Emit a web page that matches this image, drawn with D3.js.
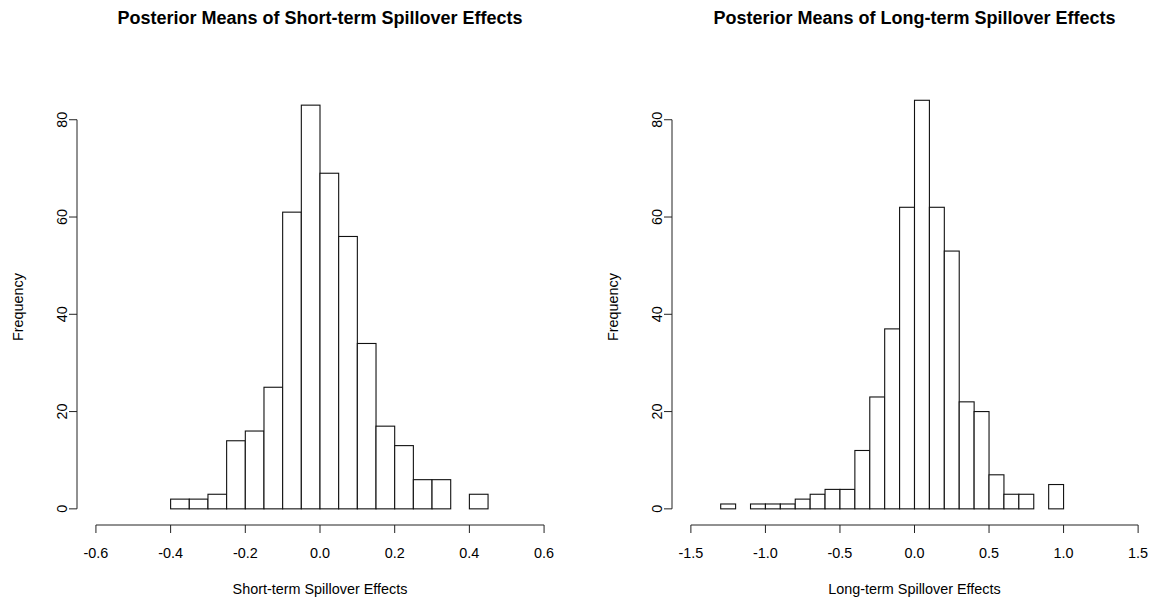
<!DOCTYPE html>
<html>
<head>
<meta charset="utf-8">
<script src="https://cdn.jsdelivr.net/npm/d3@7"></script>
<style>
  body { margin: 0; background: #fff; }
  text { font-family: "Liberation Sans", Arial, sans-serif; fill: #000; }
</style>
</head>
<body>
<svg id="chart" width="1155" height="599"></svg>
<script>
// histogram data
var shortBreaks = [-0.4, -0.35, -0.3, -0.25, -0.2, -0.15, -0.1, -0.05, 0, 0.05, 0.1, 0.15, 0.2, 0.25, 0.3, 0.35, 0.4, 0.45];
var shortCounts = [2, 2, 3, 14, 16, 25, 61, 83, 69, 56, 34, 17, 13, 6, 6, 0, 3];
var shortTicks = [-0.6, -0.4, -0.2, 0, 0.2, 0.4, 0.6];

var longBreaks = [-1.3, -1.2, -1.1, -1.0, -0.9, -0.8, -0.7, -0.6, -0.5, -0.4, -0.3, -0.2, -0.1, 0, 0.1, 0.2, 0.3, 0.4, 0.5, 0.6, 0.7, 0.8, 0.9, 1.0];
var longCounts = [1, 0, 1, 1, 1, 2, 3, 4, 4, 12, 23, 37, 62, 84, 62, 53, 22, 20, 7, 3, 3, 0, 5];
var longTicks = [-1.5, -1.0, -0.5, 0, 0.5, 1.0, 1.5];

var freqTicks = [0, 20, 40, 60, 80];
var yLim = [0, 83];

var svg = d3.select('#chart');

// R style labels use a plain hyphen for the minus sign
var fmt = function(d){ return d3.format('.1f')(d).replace('\u2212', '-'); };

var drawHist = function(opts){
  var ext = (opts.xlim[1] - opts.xlim[0]) * 0.04;
  var x = d3.scaleLinear()
    .domain([opts.xlim[0] - ext, opts.xlim[1] + ext])
    .range([opts.left, opts.right]);
  var yext = (yLim[1] - yLim[0]) * 0.04;
  var y = d3.scaleLinear()
    .domain([yLim[0] - yext, yLim[1] + yext])
    .range([525, 89]);

  var g = svg.append('g');

  // bars
  g.selectAll('rect.bar')
    .data(opts.counts)
    .enter().append('rect')
    .attr('class', 'bar')
    .attr('x', function(d, i){ return x(opts.breaks[i]); })
    .attr('width', function(d, i){ return x(opts.breaks[i + 1]) - x(opts.breaks[i]); })
    .attr('y', function(d){ return y(d); })
    .attr('height', function(d){ return y(0) - y(d); })
    .style('fill', 'white')
    .style('stroke', '#111')
    .style('stroke-width', 1.1);

  // x axis
  var ax = g.append('g').attr('transform', 'translate(0,525)');
  ax.append('line')
    .attr('x1', x(opts.ticks[0])).attr('x2', x(opts.ticks[opts.ticks.length - 1]))
    .attr('y1', 0).attr('y2', 0)
    .style('stroke', '#222');
  ax.selectAll('line.tick')
    .data(opts.ticks)
    .enter().append('line')
    .attr('class', 'tick')
    .attr('x1', function(d){ return x(d); }).attr('x2', function(d){ return x(d); })
    .attr('y1', 0).attr('y2', 8)
    .style('stroke', '#222');
  ax.selectAll('text')
    .data(opts.ticks)
    .enter().append('text')
    .attr('x', function(d){ return x(d); })
    .attr('y', 33)
    .attr('text-anchor', 'middle')
    .style('font-size', '14.4px')
    .text(fmt);

  // y axis
  var ay = g.append('g').attr('transform', 'translate(' + (opts.left - 1) + ',0)');
  ay.append('line')
    .attr('x1', 0).attr('x2', 0)
    .attr('y1', y(freqTicks[0])).attr('y2', y(freqTicks[freqTicks.length - 1]))
    .style('stroke', '#222');
  ay.selectAll('line.tick')
    .data(freqTicks)
    .enter().append('line')
    .attr('class', 'tick')
    .attr('x1', 0).attr('x2', -8)
    .attr('y1', function(d){ return y(d); }).attr('y2', function(d){ return y(d); })
    .style('stroke', '#222');
  ay.selectAll('text')
    .data(freqTicks)
    .enter().append('text')
    .attr('transform', function(d){ return 'translate(-10,' + y(d) + ') rotate(-90)'; })
    .attr('text-anchor', 'middle')
    .style('font-size', '14.4px')
    .text(function(d){ return d; });

  // labels
  var cx = (opts.left + opts.right) / 2;
  g.append('text')
    .attr('x', cx).attr('y', 24)
    .attr('text-anchor', 'middle')
    .style('font-size', '18px')
    .style('font-weight', 'bold')
    .text(opts.title);
  g.append('text')
    .attr('x', cx).attr('y', 594)
    .attr('text-anchor', 'middle')
    .style('font-size', '14.4px')
    .text(opts.xlabel);
  g.append('text')
    .attr('transform', 'translate(' + (opts.left - 55) + ',' + ((525 + 89) / 2) + ') rotate(-90)')
    .attr('text-anchor', 'middle')
    .style('font-size', '14.4px')
    .text('Frequency');
};

drawHist({
  breaks: shortBreaks, counts: shortCounts, ticks: shortTicks,
  xlim: [-0.6, 0.6], left: 78, right: 562,
  title: 'Posterior Means of Short-term Spillover Effects',
  xlabel: 'Short-term Spillover Effects'
});
drawHist({
  breaks: longBreaks, counts: longCounts, ticks: longTicks,
  xlim: [-1.5, 1.5], left: 673, right: 1156,
  title: 'Posterior Means of Long-term Spillover Effects',
  xlabel: 'Long-term Spillover Effects'
});
</script>
</body>
</html>
